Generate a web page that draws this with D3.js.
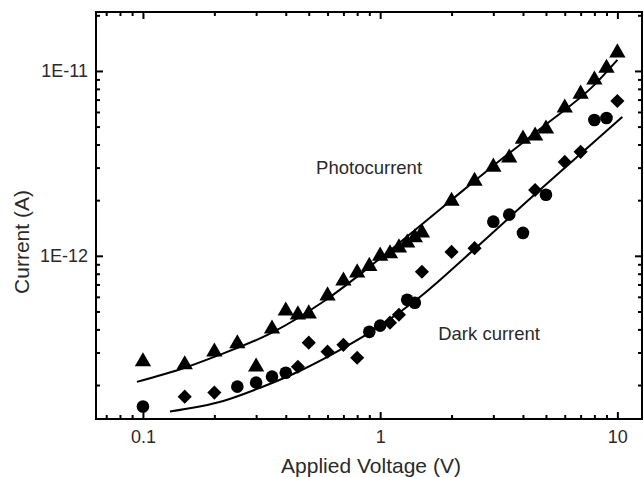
<!DOCTYPE html>
<html>
<head>
<meta charset="utf-8">
<script src="https://cdn.jsdelivr.net/npm/d3@7"></script>
<style>
  html, body { margin: 0; padding: 0; background: #fff; }
  svg { display: block; }
  text { font-family: "Liberation Sans", Arial, sans-serif; }
</style>
</head>
<body>
<svg id="chart" width="644" height="477"></svg>
<script>
// ---------- data ----------
const xTickValues = [0.1, 1, 10];
const xTickLabels = ["0.1", "1", "10"];
const yTickValues = [1e-12, 1e-11];
const yTickLabels = ["1E-12", "1E-11"];

const photoV = [0.1, 0.15, 0.2, 0.25, 0.3, 0.35, 0.4, 0.45, 0.5, 0.6, 0.7, 0.8, 0.9,
                1.0, 1.1, 1.2, 1.3, 1.4, 1.5, 2, 2.5, 3, 3.5, 4, 4.5, 5, 6, 7, 8, 9, 10];
const photoI = [2.71e-13, 2.61e-13, 3.06e-13, 3.39e-13, 2.54e-13, 4.08e-13, 5.1e-13, 4.86e-13, 4.92e-13,
                6.16e-13, 7.41e-13, 8.2e-13, 8.9e-13,
                1.01e-12, 1.04e-12, 1.12e-12, 1.19e-12, 1.27e-12, 1.35e-12, 2.0e-12, 2.57e-12, 3.06e-12,
                3.43e-12, 4.34e-12, 4.51e-12, 4.92e-12, 6.39e-12, 7.6e-12, 9.06e-12, 1.05e-11, 1.27e-11];

const darkV = [0.1, 0.15, 0.2, 0.25, 0.3, 0.35, 0.4, 0.45, 0.5, 0.6, 0.7, 0.8, 0.9,
               1.0, 1.1, 1.2, 1.3, 1.4, 1.5, 2, 2.5, 3, 3.5, 4, 4.5, 5, 6, 7, 8, 9, 10];
const darkI = [1.53e-13, 1.73e-13, 1.82e-13, 1.96e-13, 2.06e-13, 2.22e-13, 2.33e-13, 2.51e-13, 3.39e-13,
               3.03e-13, 3.3e-13, 2.81e-13, 3.88e-13,
               4.19e-13, 4.35e-13, 4.8e-13, 5.78e-13, 5.57e-13, 8.2e-13, 1.05e-12, 1.1e-12, 1.53e-12,
               1.67e-12, 1.33e-12, 2.27e-12, 2.14e-12, 3.22e-12, 3.65e-12, 5.43e-12, 5.57e-12, 6.88e-12];
const darkShape = ["c","d","d","c","c","c","c","d","d","d","d","d","c",
                   "c","d","d","c","c","d","d","d","c","c","c","d","c","d","d","c","c","d"];

// fitted curves
const photoFitV = [0.0943, 0.15, 0.201, 0.35, 0.575, 1.02, 1.974, 3.0, 4.97, 7.92, 10.0];
const photoFitI = [2.08e-13, 2.48e-13, 2.85e-13, 3.84e-13, 5.64e-13, 9.88e-13, 1.98e-12, 3.07e-12, 5.11e-12, 8.3e-12, 1.147e-11];
const darkFitV = [0.13, 0.218, 0.312, 0.46, 0.678, 1.0, 1.475, 2.4, 4.42, 10.5];
const darkFitI = [1.44e-13, 1.64e-13, 1.934e-13, 2.39e-13, 3.1e-13, 4.18e-13, 6.0e-13, 1.038e-12, 2.11e-12, 5.64e-12];

const annotations = [
  { text: "Photocurrent", v: 0.537, i: 2.76e-12 },
  { text: "Dark current", v: 1.757, i: 3.52e-13 }
];
const xTitle = "Applied Voltage (V)";
const yTitle = "Current (A)";

// ---------- layout ----------
const L = 96, R = 642, T = 12, B = 419;
const svg = d3.select("#chart");

const x = d3.scaleLog().domain([0.0634, 12.7]).range([L, R]);
const y = d3.scaleLog().domain([1.31e-13, 2.084e-11]).range([B, T]);

function minorTicks(scale, decades) {
  const [d0, d1] = scale.domain();
  const out = [];
  decades.forEach(p => { for (let k = 2; k <= 9; k++) { const v = k * Math.pow(10, p); if (v > d0 && v < d1) out.push(v); } });
  return out.filter(v => Math.abs(scale(v) - scale.range()[0]) > 3 && Math.abs(scale(v) - scale.range()[1]) > 3);
}
const xMinor = minorTicks(x, [-2, -1, 0, 1]);
const yMinor = minorTicks(y, [-14, -13, -12, -11]);

const labelColor = "#2a2a2a";

function styleAxis(g) {
  g.select(".domain").remove();
  g.selectAll(".tick line").attr("stroke", "#000").attr("stroke-width", 2);
  g.selectAll(".tick text").attr("fill", labelColor).style("font-size", "18px")
   .style("font-family", "'Liberation Sans', Arial, sans-serif");
}

// bottom
svg.append("g").attr("transform", `translate(0,${B})`)
  .call(d3.axisBottom(x).tickValues(xTickValues).tickFormat((d, i) => xTickLabels[i]).tickSizeInner(-7).tickSizeOuter(0).tickPadding(11))
  .call(styleAxis);
svg.append("g").attr("transform", `translate(0,${B})`)
  .call(d3.axisBottom(x).tickValues(xMinor).tickFormat("").tickSizeInner(-4).tickSizeOuter(0))
  .call(styleAxis);
// top
svg.append("g").attr("transform", `translate(0,${T})`)
  .call(d3.axisTop(x).tickValues(xTickValues).tickFormat("").tickSizeInner(-7).tickSizeOuter(0))
  .call(styleAxis);
svg.append("g").attr("transform", `translate(0,${T})`)
  .call(d3.axisTop(x).tickValues(xMinor).tickFormat("").tickSizeInner(-4).tickSizeOuter(0))
  .call(styleAxis);
// left
svg.append("g").attr("transform", `translate(${L},0)`)
  .call(d3.axisLeft(y).tickValues(yTickValues).tickFormat((d, i) => yTickLabels[i]).tickSizeInner(-7).tickSizeOuter(0).tickPadding(8))
  .call(styleAxis);
svg.append("g").attr("transform", `translate(${L},0)`)
  .call(d3.axisLeft(y).tickValues(yMinor).tickFormat("").tickSizeInner(-4).tickSizeOuter(0))
  .call(styleAxis);
// right
svg.append("g").attr("transform", `translate(${R},0)`)
  .call(d3.axisRight(y).tickValues(yTickValues).tickFormat("").tickSizeInner(-7).tickSizeOuter(0))
  .call(styleAxis);
svg.append("g").attr("transform", `translate(${R},0)`)
  .call(d3.axisRight(y).tickValues(yMinor).tickFormat("").tickSizeInner(-4).tickSizeOuter(0))
  .call(styleAxis);

// frame
svg.append("rect").attr("x", L).attr("y", T).attr("width", R - L).attr("height", B - T)
  .attr("fill", "none").attr("stroke", "#000").attr("stroke-width", 2);

// fit lines
const line = d3.line().x(d => x(d[0])).y(d => y(d[1])).curve(d3.curveMonotoneX);
svg.append("path").datum(photoFitV.map((v, i) => [v, photoFitI[i]]))
  .attr("d", line).attr("fill", "none").attr("stroke", "#000").attr("stroke-width", 2);
svg.append("path").datum(darkFitV.map((v, i) => [v, darkFitI[i]]))
  .attr("d", line).attr("fill", "none").attr("stroke", "#000").attr("stroke-width", 2);

// photocurrent markers (triangles)
svg.append("g").selectAll("path").data(photoV.map((v, i) => [v, photoI[i]])).join("path")
  .attr("transform", d => `translate(${x(d[0])},${y(d[1]) + 1})`)
  .attr("d", d3.symbol(d3.symbolTriangle, 115)())
  .attr("fill", "#000");

// dark-current markers (circles / diamonds)
svg.append("g").selectAll("path").data(darkV.map((v, i) => [v, darkI[i], darkShape[i]])).join("path")
  .attr("transform", d => d[2] === "d"
      ? `translate(${x(d[0])},${y(d[1])}) rotate(45)`
      : `translate(${x(d[0])},${y(d[1])})`)
  .attr("d", d => d[2] === "d" ? d3.symbol(d3.symbolSquare, 100)() : d3.symbol(d3.symbolCircle, 125)())
  .attr("fill", "#000");

// annotations
svg.append("g").selectAll("text").data(annotations).join("text")
  .attr("x", d => x(d.v)).attr("y", d => y(d.i))
  .attr("fill", labelColor).style("font-size", "18.5px")
  .text(d => d.text);

// axis titles
svg.append("text").attr("x", (L + R) / 2 + 2).attr("y", 473).attr("text-anchor", "middle")
  .attr("fill", labelColor).style("font-size", "21px").text(xTitle);
svg.append("text").attr("transform", `translate(29,242) rotate(-90)`).attr("text-anchor", "middle")
  .attr("fill", labelColor).style("font-size", "21px").text(yTitle);
</script>
</body>
</html>
